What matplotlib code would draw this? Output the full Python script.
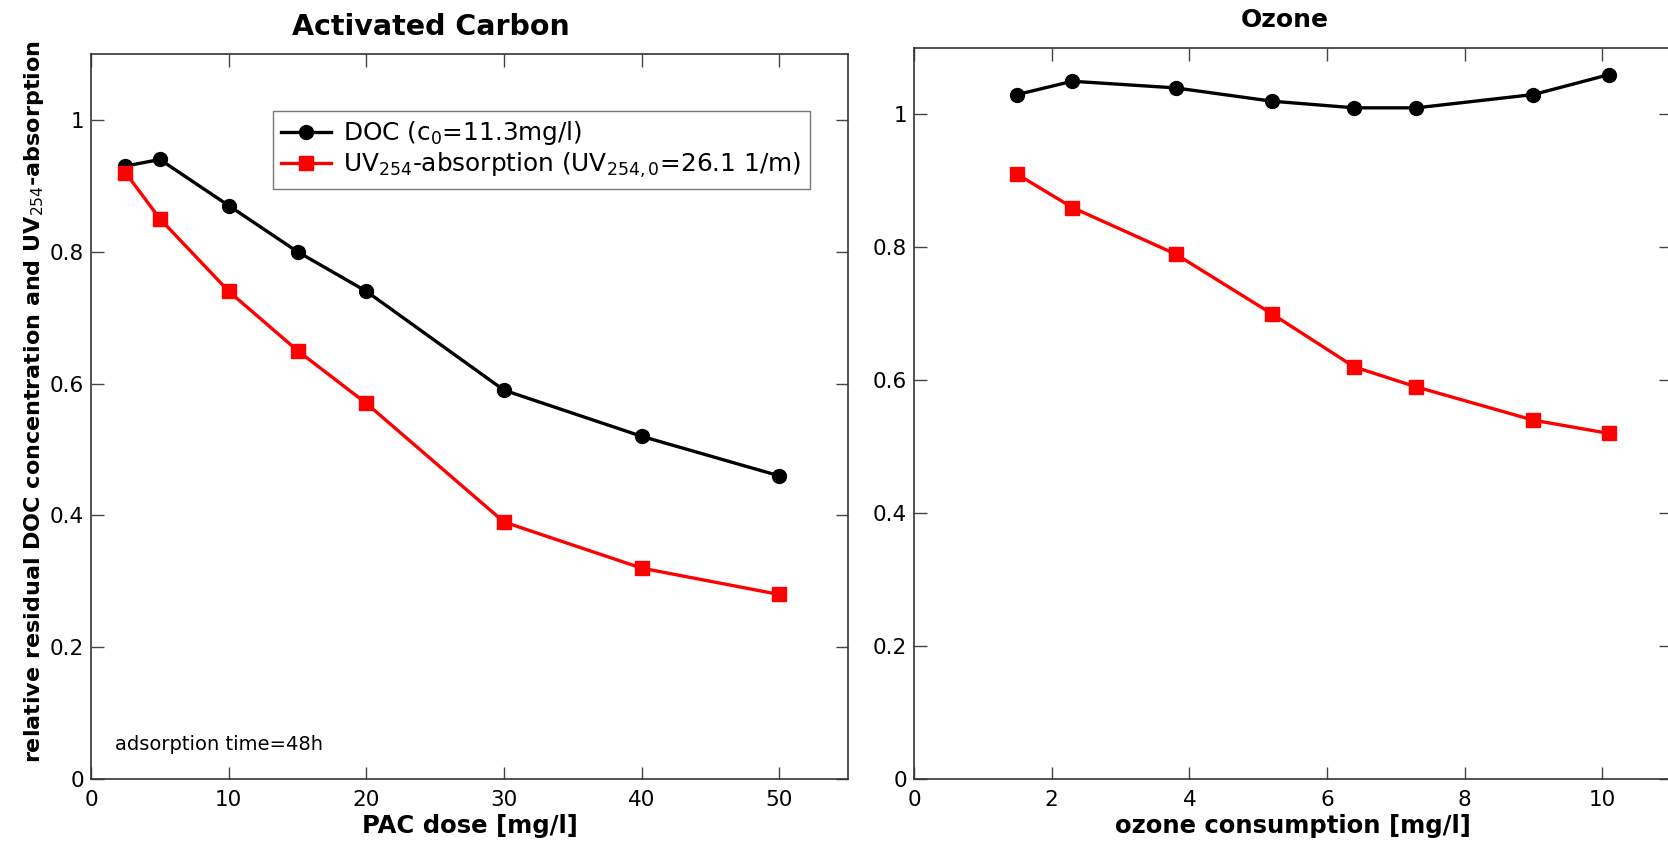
import numpy as np
import matplotlib
matplotlib.use('Agg')
import matplotlib.pyplot as plt
from matplotlib.ticker import FuncFormatter

# ── Data ─────────────────────────────────────────────────────────────────────
pac_dose = [2.5, 5, 10, 15, 20, 30, 40, 50]
pac_doc  = [0.93, 0.94, 0.87, 0.80, 0.74, 0.59, 0.52, 0.46]
pac_uv   = [0.92, 0.85, 0.74, 0.65, 0.57, 0.39, 0.32, 0.28]

ozone_cons = [1.5, 2.3, 3.8, 5.2, 6.4, 7.3, 9.0, 10.1]
ozone_doc  = [1.03, 1.05, 1.04, 1.02, 1.01, 1.01, 1.03, 1.06]
ozone_uv   = [0.91, 0.86, 0.79, 0.70, 0.62, 0.59, 0.54, 0.52]

pac_xticks   = [0, 10, 20, 30, 40, 50]
ozone_xticks = [0, 2, 4, 6, 8, 10]
yticks       = [0, 0.2, 0.4, 0.6, 0.8, 1.0]

DOC_LABEL = r'DOC (c$_0$=11.3mg/l)'
UV_LABEL  = r'UV$_{254}$-absorption (UV$_{254,0}$=26.1 1/m)'
YLABEL    = r'relative residual DOC concentration and UV$_{254}$-absorption'

plt.rcParams['font.family'] = ['DejaVu Sans']
plt.rcParams['mathtext.fontset'] = 'dejavusans'

fig = plt.figure(figsize=(16.68, 8.44), dpi=100)
ax1 = fig.add_axes([0.0546, 0.0770, 0.4538, 0.8590])
ax2 = fig.add_axes([0.5480, 0.0770, 0.4538, 0.8661])


def style(ax, xlim, xticks, xlabel, xlabel_size):
    ax.set_xlim(*xlim)
    ax.set_ylim(0, 1.1)
    ax.set_xticks(xticks)
    ax.set_yticks(yticks)
    ax.yaxis.set_major_formatter(FuncFormatter(lambda v, _: '{:g}'.format(v)))
    ax.tick_params(direction='in', length=9, width=1.0, color='#444444',
                   top=True, right=True, labelsize=15.5)
    ax.tick_params(axis='y', pad=5)
    ax.tick_params(axis='x', pad=8)
    for s in ax.spines.values():
        s.set_linewidth(1.2)
        s.set_color('#333333')
    ax.set_xlabel(xlabel, fontsize=xlabel_size, fontweight='bold', labelpad=3)


line_kw = dict(linewidth=2.4, markersize=10)

ax1.plot(pac_dose, pac_doc, color='black', marker='o', label=DOC_LABEL, **line_kw)
ax1.plot(pac_dose, pac_uv, color='#ff0000', marker='s', label=UV_LABEL, **line_kw)
style(ax1, (0, 55), pac_xticks, 'PAC dose [mg/l]', 17.5)
ax1.set_title('Activated Carbon', fontsize=20.5, fontweight='bold', pad=14, x=0.449)
ax1.set_ylabel(YLABEL, fontsize=16, fontweight='bold', labelpad=3)
ax1.yaxis.label.set_y(0.52)
ax1.text(0.031, 0.048, 'adsorption time=48h', transform=ax1.transAxes,
         fontsize=14, ha='left', va='center')
leg = ax1.legend(loc='upper left', bbox_to_anchor=(0.24, 0.922), fontsize=17.8,
                 frameon=True, fancybox=False, edgecolor='#555555',
                 handlelength=2.0, borderpad=0.35, labelspacing=0.15,
                 handletextpad=0.5, borderaxespad=0)
leg.get_frame().set_linewidth(1.0)

ax2.plot(ozone_cons, ozone_doc, color='black', marker='o', **line_kw)
ax2.plot(ozone_cons, ozone_uv, color='#ff0000', marker='s', **line_kw)
style(ax2, (0, 11), ozone_xticks, 'ozone consumption [mg/l]', 17.5)
ax2.set_title('Ozone', fontsize=18, fontweight='bold', pad=15, x=0.49)

fig.savefig('out.png', dpi=100)
